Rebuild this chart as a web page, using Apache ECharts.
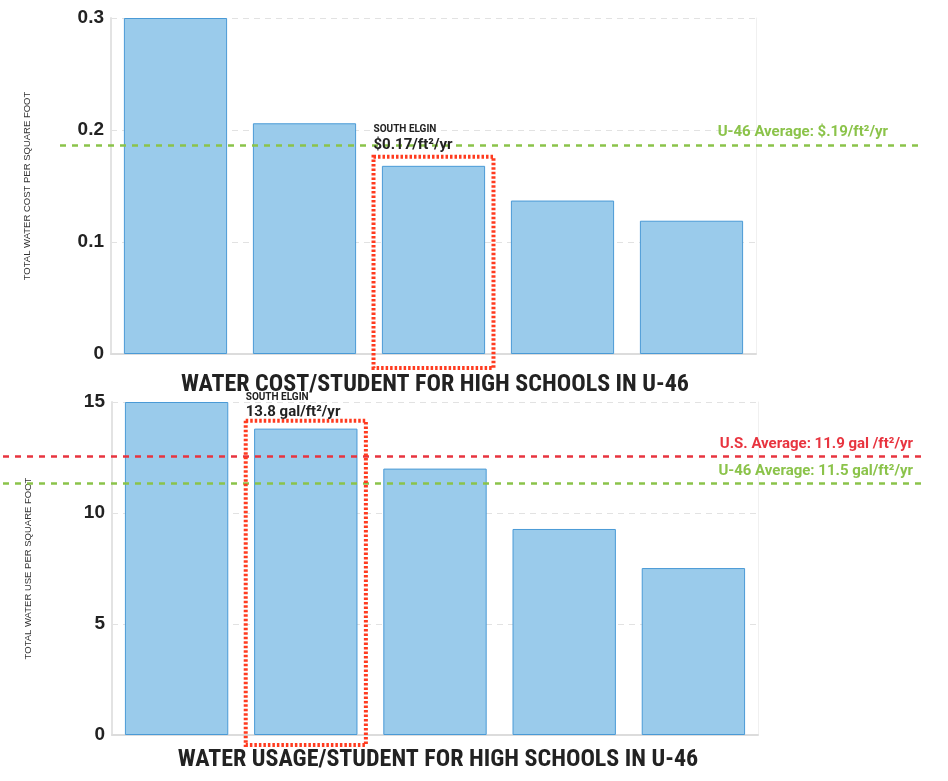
<!DOCTYPE html>
<html>
<head>
<meta charset="utf-8">
<script src="https://cdn.jsdelivr.net/npm/echarts@6/dist/echarts.min.js"></script>
<style>html,body{margin:0;padding:0;background:#fff;}#c{width:948px;height:781px;}</style>
</head>
<body>
<div id="c"></div>
<script>
// ---- data ----
const costCategories = ['High School 1', 'High School 2', 'South Elgin', 'High School 4', 'High School 5'];
const costValues = [0.30, 0.206, 0.168, 0.137, 0.119];
const costTicks = [0, 0.1, 0.2, 0.3];
const costAverage = 0.186;
const costAverageLabel = 'U-46 Average: $.19/ft²/yr';
const costHighlight = [2, 0.168];
const costHighlightLabel = '$0.17/ft²/yr';

const usageCategories = ['High School A', 'South Elgin', 'High School C', 'High School D', 'High School E'];
const usageValues = [15.0, 13.8, 12.0, 9.28, 7.52];
const usageTicks = [0, 5, 10, 15];
const usageUSAverage = 12.57;
const usageUSAverageLabel = 'U.S. Average: 11.9 gal /ft²/yr';
const usageU46Average = 11.35;
const usageU46AverageLabel = 'U-46 Average: 11.5 gal/ft²/yr';
const usageHighlight = [1, 13.8];
const usageHighlightLabel = '13.8 gal/ft²/yr';

const highlightName = 'SOUTH ELGIN';
const costTitle = 'WATER COST/STUDENT FOR HIGH SCHOOLS IN U-46';
const usageTitle = 'WATER USAGE/STUDENT FOR HIGH SCHOOLS IN U-46';
const costAxisName = 'TOTAL WATER COST PER SQUARE FOOT';
const usageAxisName = 'TOTAL WATER USE PER SQUARE FOOT';

// ---- styles ----
const BAR_FILL = '#9ACBEB';
const BAR_BORDER = '#4A9AD6';
const GREEN = '#8BC34A';
const RED = '#E8343F';
const HL = '#FF3B1F';
const TITLE_FONT = '"Liberation Sans Narrow", "Roboto Condensed", Roboto, sans-serif';

function highlightSeries(xi, yi, point, label, padTop, padBottom, nameOff, valOff) {
  return {
    type: 'custom', xAxisIndex: xi, yAxisIndex: yi, clip: false, silent: true, z: 10,
    data: [point],
    renderItem: function (params, api) {
      const top = api.coord([api.value(0), api.value(1)]);
      const base = api.coord([api.value(0), 0]);
      const bw = api.size([1, 0])[0];
      const half = bw * 0.465;
      const x0 = top[0] - half;
      const yTop = top[1] - padTop;
      const yBot = base[1] + padBottom;
      return {
        type: 'group',
        children: [
          { type: 'rect', shape: { x: x0, y: yTop, width: half * 2, height: yBot - yTop },
            style: { fill: 'none', stroke: HL, lineWidth: 4, lineDash: [2.5, 2] } },
          { type: 'text', style: { text: highlightName, x: x0, y: yTop - nameOff, fill: '#222',
            font: 'bold 10px Roboto', verticalAlign: 'middle', textAlign: 'left' } },
          { type: 'text', style: { text: label, x: x0, y: yTop - valOff, fill: '#222',
            font: 'bold 15px Roboto', verticalAlign: 'middle', textAlign: 'left' } }
        ]
      };
    }
  };
}

function avgLine(xi, yi, value, color, label, dx, dy) {
  return {
    type: 'line', xAxisIndex: xi, yAxisIndex: yi, data: [], silent: true,
    markLine: {
      symbol: ['none', 'none'], silent: true, precision: 4,
      lineStyle: { color: color, type: [6, 6], width: 2.5 },
      label: { show: true, position: 'insideEndTop', formatter: label, color: color,
        fontFamily: 'Roboto', fontWeight: 'bold', fontSize: 15, distance: [dx, dy] },
      data: [{ yAxis: value }]
    }
  };
}

const yLabel = { fontFamily: 'Liberation Sans', fontWeight: 'bold', fontSize: 19, color: '#222', margin: 7 };
const yName = { fontFamily: 'Liberation Sans', fontSize: 9.5, color: '#333' };

const option = {
  backgroundColor: '#fff',
  animation: false,
  title: [
    { text: costTitle, left: 430, top: 368, textAlign: 'center',
      textStyle: { fontFamily: TITLE_FONT, fontWeight: 'bold', fontSize: 24, color: '#222' } },
    { text: usageTitle, left: 433, top: 743, textAlign: 'center',
      textStyle: { fontFamily: TITLE_FONT, fontWeight: 'bold', fontSize: 24, color: '#222' } }
  ],
  grid: [
    { left: 111, width: 645, top: 18, height: 336 },
    { left: 112, width: 646, top: 402, height: 333 },
    { left: 60, right: 25, top: 18, height: 336 },
    { left: 3, right: 25, top: 402, height: 333 }
  ],
  xAxis: [
    { type: 'category', gridIndex: 0, data: costCategories,
      axisLine: { lineStyle: { color: '#dcdcdc', width: 2 } },
      axisTick: { alignWithLabel: true, length: 4, lineStyle: { color: '#ddd' } },
      axisLabel: { show: false } },
    { type: 'category', gridIndex: 1, data: usageCategories,
      axisLine: { lineStyle: { color: '#dcdcdc', width: 2 } },
      axisTick: { alignWithLabel: true, length: 4, lineStyle: { color: '#ddd' } },
      axisLabel: { show: false } },
    { type: 'value', gridIndex: 2, min: 0, max: 1, show: false },
    { type: 'value', gridIndex: 3, min: 0, max: 1, show: false }
  ],
  yAxis: [
    { type: 'value', gridIndex: 0, min: 0, max: 0.3, interval: 0.1,
      name: costAxisName, nameLocation: 'middle', nameGap: 79, nameRotate: 90, nameTextStyle: yName,
      axisLine: { show: true, lineStyle: { color: '#e3e3e3', width: 2 } },
      axisTick: { show: false },
      axisLabel: Object.assign({ formatter: v => costTicks.includes(+v.toFixed(1)) ? (v === 0 ? '0' : v.toFixed(1)) : '' }, yLabel),
      splitLine: { lineStyle: { color: '#e2e2e2', type: [6, 5] } } },
    { type: 'value', gridIndex: 1, min: 0, max: 15, interval: 5,
      name: usageAxisName, nameLocation: 'middle', nameGap: 79, nameRotate: 90, nameTextStyle: yName,
      axisLine: { show: true, lineStyle: { color: '#e3e3e3', width: 2 } },
      axisTick: { show: false },
      axisLabel: Object.assign({ formatter: v => usageTicks.includes(v) ? String(v) : '' }, yLabel),
      splitLine: { lineStyle: { color: '#e2e2e2', type: [6, 5] } } },
    { type: 'value', gridIndex: 2, min: 0, max: 0.3, show: false },
    { type: 'value', gridIndex: 3, min: 0, max: 15, show: false },
    { type: 'value', gridIndex: 0, min: 0, max: 0.3, position: 'right',
      axisLine: { show: true, lineStyle: { color: '#f0f0f0', width: 1 } },
      axisTick: { show: false }, axisLabel: { show: false }, splitLine: { show: false } },
    { type: 'value', gridIndex: 1, min: 0, max: 15, position: 'right',
      axisLine: { show: true, lineStyle: { color: '#f0f0f0', width: 1 } },
      axisTick: { show: false }, axisLabel: { show: false }, splitLine: { show: false } }
  ],
  series: [
    { type: 'bar', xAxisIndex: 0, yAxisIndex: 0, data: costValues, barWidth: '80%',
      itemStyle: { color: BAR_FILL, borderColor: BAR_BORDER, borderWidth: 1 } },
    { type: 'bar', xAxisIndex: 1, yAxisIndex: 1, data: usageValues, barWidth: '80%',
      itemStyle: { color: BAR_FILL, borderColor: BAR_BORDER, borderWidth: 1 } },
    avgLine(2, 2, costAverage, GREEN, costAverageLabel, 35, 6),
    avgLine(3, 3, usageUSAverage, RED, usageUSAverageLabel, 10, 4),
    avgLine(3, 3, usageU46Average, GREEN, usageU46AverageLabel, 10, 4),
    highlightSeries(0, 0, costHighlight, costHighlightLabel, 9, 14, 27, 12),
    highlightSeries(1, 1, usageHighlight, usageHighlightLabel, 8, 10, 23, 8)
  ]
};

const chart = echarts.init(document.getElementById('c'), null, { renderer: 'canvas' });
chart.setOption(option);
</script>
</body>
</html>
